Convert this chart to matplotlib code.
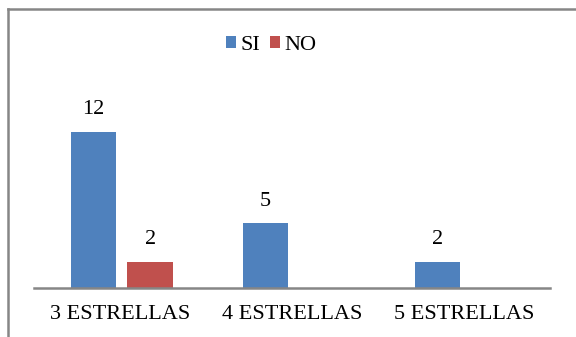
import matplotlib
matplotlib.use('Agg')
import matplotlib.pyplot as plt
from matplotlib.lines import Line2D
import numpy as np

plt.rcParams['font.family'] = ['Liberation Serif', 'DejaVu Serif']

categorias = ['3 ESTRELLAS', '4 ESTRELLAS', '5 ESTRELLAS']
si = [12, 5, 2]
no = [2, 0, 0]

azul = '#4f81bd'
rojo = '#c0504d'
gris = '#868686'

W, H = 576, 337
fig = plt.figure(figsize=(W / 100, H / 100), dpi=100)
ax = fig.add_axes([34 / W, (H - 288) / H, (550 - 34) / W, 182 / H])

x = np.arange(len(categorias))
ancho = 0.265
b1 = ax.bar(x - 0.155, si, ancho, color=azul, label='SI')
b2 = ax.bar(x + 0.175, no, ancho, color=rojo, label='NO')

for barras, vals in [(b1, si), (b2, no)]:
    for b, v in zip(barras, vals):
        if v == 0:
            continue
        ax.annotate(str(v), (b.get_x() + b.get_width() / 2, v),
                    xytext=(0, 9), textcoords='offset points',
                    ha='center', va='bottom', fontsize=16)

ax.set_xlim(-0.5, 2.5)
ax.set_ylim(0, 14)
ax.set_xticks(x)
ax.set_xticklabels(categorias, fontsize=16)
ax.tick_params(axis='x', length=0, pad=12)
ax.set_yticks([])
for s in ['top', 'right', 'left']:
    ax.spines[s].set_visible(False)
ax.spines['bottom'].set_color(gris)
ax.spines['bottom'].set_linewidth(1.8)

fig.legend(handles=[b1, b2], loc='center', bbox_to_anchor=(271 / W, 1 - 45 / H),
           ncol=2, frameon=False, fontsize=16, handlelength=0.45,
           handleheight=0.45, handletextpad=0.2, columnspacing=0.45)

# marco del grafico
fig.add_artist(Line2D([7.5 / W, 7.5 / W], [0, 1 - 9 / H], transform=fig.transFigure,
                      color=gris, lw=1.8))
fig.add_artist(Line2D([7.5 / W, 1], [1 - 9 / H, 1 - 9 / H], transform=fig.transFigure,
                      color=gris, lw=1.8))

fig.savefig('out.png', dpi=100)
